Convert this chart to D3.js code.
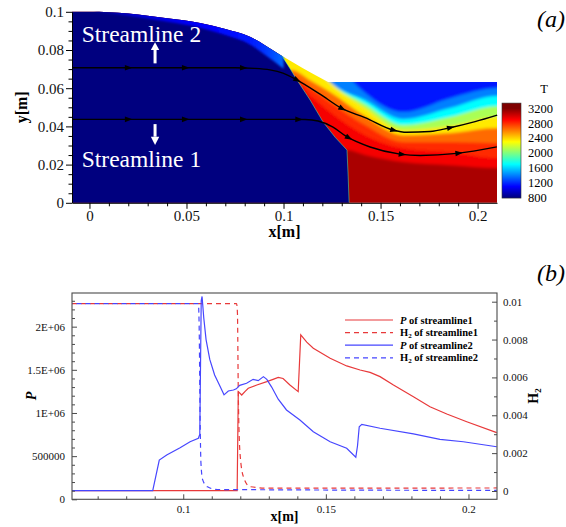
<!DOCTYPE html>
<html>
<head>
<meta charset="utf-8">
<script src="https://cdn.jsdelivr.net/npm/d3@7/dist/d3.min.js"></script>
<style>
  html, body { margin: 0; padding: 0; background: #fff; }
  svg { display: block; font-family: "Liberation Serif", "Times New Roman", serif; }
</style>
</head>
<body>
<svg id="fig" width="566" height="527"></svg>
<script>
// ===== Temperature colour map (jet-like) =====
const tempStops  = [800, 1100, 1700, 2000, 2300, 2900, 3200];
const tempColors = ["#00007f", "#0000ff", "#00ffff", "#7fff7f", "#ffff00", "#ff0000", "#7f0000"];
const tempTicks  = [800, 1200, 1600, 2000, 2400, 2800, 3200];

// ===== Panel (a): flow-field geometry, metres =====
const wallX = [-0.009, 0, 0.02, 0.04, 0.057, 0.07, 0.0827, 0.09, 0.0982, 0.11, 0.123];
const wallY = [0.1, 0.1, 0.0991, 0.0966, 0.0942, 0.091, 0.0869, 0.0828, 0.0775, 0.0705, 0.0632];
const wallFlatY = 0.0632;
const fieldXMax = 0.21;

const shockPts = [[0.0985,0.0790],[0.1000,0.0756],[0.1035,0.0700],[0.1070,0.0642],[0.1137,0.0538],
                  [0.1204,0.0423],[0.1265,0.0344],[0.1327,0.0276],[0.1333,0.0140],[0.1338,0.0]];
const freeStreamT = 800;

// thin heated layer along the wall, ahead of the shock
const layerX     = [0.003, 0.0226, 0.04, 0.057, 0.07, 0.0827, 0.09, 0.1];
const layerDepth = [0, 0.0012, 0.0018, 0.0025, 0.0032, 0.0040, 0.0050, 0.0062];
const layerT     = [850, 1000, 1050, 1090, 1120, 1160, 1220, 1350];

// behind the shock: each band covers everything above its lower edge
const coreT = 3100;
const bandT = [2920, 2800, 2650, 2350, 2100, 1700, 1400, 1150];
const bandEdges = [
  [[0.0982,0.0276],[0.1327,0.0276],[0.1420,0.0250],[0.1616,0.0213],[0.1858,0.0197],[0.2101,0.0182]],
  [[0.0982,0.0611],[0.1085,0.0611],[0.1137,0.0564],[0.1240,0.0475],[0.1420,0.0354],[0.1616,0.0286],[0.1858,0.0265],[0.2101,0.0234]],
  [[0.0982,0.0653],[0.1054,0.0653],[0.1137,0.0601],[0.1240,0.0527],[0.1420,0.0407],[0.1616,0.0318],[0.1858,0.0318],[0.2101,0.0313]],
  [[0.0982,0.0695],[0.1039,0.0695],[0.1137,0.0642],[0.1240,0.0580],[0.1420,0.0454],[0.1616,0.0354],[0.1858,0.0365],[0.2101,0.0391]],
  [[0.1180,0.0700],[0.1240,0.0632],[0.1420,0.0496],[0.1616,0.0381],[0.1858,0.0402],[0.2101,0.0449]],
  [[0.1180,0.0700],[0.1240,0.0632],[0.1420,0.0517],[0.1616,0.0407],[0.1858,0.0449],[0.2101,0.0506]],
  [[0.1180,0.0700],[0.1240,0.0632],[0.1420,0.0538],[0.1616,0.0438],[0.1858,0.0496],[0.2101,0.0559]],
  [[0.1320,0.0680],[0.1360,0.0632],[0.1420,0.0576],[0.1616,0.0475],[0.1858,0.0548],[0.2101,0.0601]]
];

// streamlines and the positions of their direction arrows
const stream1 = [[-0.009,0.0437],[0.105,0.0437],[0.1111,0.0436],[0.1178,0.0428],[0.1255,0.0396],[0.1326,0.0346],
                 [0.1446,0.0292],[0.16,0.0255],[0.1704,0.0248],[0.1893,0.0259],[0.2099,0.0293]];
const stream2 = [[-0.009,0.0707],[0.075,0.0707],[0.085,0.0704],[0.093,0.0696],[0.0997,0.0679],[0.1068,0.0644],
                 [0.1188,0.0569],[0.130,0.0494],[0.142,0.0446],[0.1564,0.0381],[0.1635,0.0369],[0.1755,0.0373],
                 [0.1858,0.0393],[0.1987,0.0425],[0.2101,0.0459]];
const stream1Arrows = [0.0198, 0.0492, 0.0791, 0.1076, 0.1334, 0.1609, 0.1901];
const stream2Arrows = [0.0198, 0.0492, 0.0791, 0.1068, 0.1300, 0.1566, 0.1858];

const xTicksA = [0, 0.05, 0.1, 0.15, 0.2];
const xTickLabelsA = ["0", "0.05", "0.1", "0.15", "0.2"];
const yTicksA = [0, 0.02, 0.04, 0.06, 0.08, 0.1];
const yTickLabelsA = ["0", "0.02", "0.04", "0.06", "0.08", "0.1"];

// ===== Panel (b): profiles along the two streamlines =====
const pStream1 = [[0.061,1.0e5],[0.1189,1.0e5],[0.1193,1.247e6],[0.1205,1.208e6],[0.1217,1.25e6],[0.1228,1.286e6],
  [0.1258,1.324e6],[0.1293,1.363e6],[0.1315,1.39e6],[0.1333,1.413e6],[0.1350,1.40e6],[0.1374,1.324e6],
  [0.1403,1.247e6],[0.1412,1.904e6],[0.1433,1.82e6],[0.1456,1.75e6],[0.1515,1.634e6],[0.1573,1.545e6],
  [0.1620,1.498e6],[0.1655,1.471e6],[0.1690,1.421e6],[0.1737,1.324e6],[0.1807,1.189e6],[0.1865,1.073e6],
  [0.1924,0.988e6],[0.1994,0.899e6],[0.2099,0.772e6]];
const h2Stream1 = [[0.061,0.0099],[0.1187,0.0099],[0.1190,0.0094],[0.1193,0.0052],[0.1199,0.0020],
  [0.1211,0.00075],[0.1234,0.00023],[0.1300,0.00015],[0.2099,0.00016]];
const pStream2 = [[0.061,1.0e5],[0.0893,1.0e5],[0.0916,0.455e6],[0.0942,0.513e6],[0.0989,0.598e6],[0.1024,0.667e6],
  [0.1053,0.707e6],[0.1058,0.75e6],[0.1063,2.30e6],[0.1066,2.35e6],[0.1072,2.10e6],[0.1080,1.85e6],
  [0.1093,1.62e6],[0.1110,1.44e6],[0.1126,1.33e6],[0.1143,1.21e6],[0.1158,1.255e6],[0.1176,1.266e6],
  [0.1186,1.28e6],[0.1198,1.32e6],[0.1222,1.344e6],[0.1245,1.39e6],[0.1263,1.374e6],[0.1281,1.421e6],
  [0.1293,1.39e6],[0.1310,1.30e6],[0.1333,1.16e6],[0.1362,1.035e6],[0.1409,0.919e6],[0.1456,0.783e6],
  [0.1515,0.667e6],[0.1573,0.591e6],[0.1605,0.487e6],[0.1611,0.62e6],[0.1617,0.841e6],[0.1626,0.869e6],
  [0.1690,0.823e6],[0.1807,0.757e6],[0.1900,0.695e6],[0.1982,0.667e6],[0.2099,0.609e6]];
const h2Stream2 = [[0.061,0.0099],[0.1053,0.0099],[0.1056,0.0085],[0.1059,0.0040],[0.1062,0.0015],
  [0.1068,0.0006],[0.1085,0.00022],[0.1120,0.00008],[0.2099,0.00003]];

const pTicks = [0, 5e5, 1e6, 1.5e6, 2e6];
const pTickLabels = ["0", "500000", "1E+06", "1.5E+06", "2E+06"];
const h2Ticks = [0, 0.002, 0.004, 0.006, 0.008, 0.01];
const h2TickLabels = ["0", "0.002", "0.004", "0.006", "0.008", "0.01"];
const xTicksB = [0.1, 0.15, 0.2];
const xTickLabelsB = ["0.1", "0.15", "0.2"];

const colStream1 = "#e8393a";
const colStream2 = "#4646ff";

// ===================================================================
const svg = d3.select("#fig");
const defs = svg.append("defs");
const tempColor = d3.scaleLinear().domain(tempStops).range(tempColors).clamp(true);
const serif = "'Liberation Serif', 'Times New Roman', serif";

function minorTicks(lo, hi, step, major) {
  return d3.range(Math.round((hi - lo) / step) + 1).map(i => +(lo + i * step).toFixed(6))
    .filter(v => !major.some(m => Math.abs(m - v) < 1e-9));
}
function styleAxis(g, size, color) {
  g.attr("font-family", serif).attr("font-size", size);
  g.selectAll("line").attr("stroke", color);
  g.selectAll("path").attr("stroke", color);
  g.selectAll("text").attr("fill", "#111");
}

// ---------------- Panel (a) ----------------
const xA = d3.scaleLinear([-0.009, 0.21], [72, 497]);
const yA = d3.scaleLinear([0, 0.1], [202.8, 11.8]);

const wallPts = wallX.map((x, i) => [x, wallY[i]]);
const wallCurve = d3.line().x(d => xA(d[0])).y(d => yA(d[1])).curve(d3.curveMonotoneX);
const outline = wallCurve(wallPts) +
  `L${xA(fieldXMax)},${yA(wallFlatY)}L${xA(fieldXMax)},${yA(0)}L${xA(wallX[0])},${yA(0)}Z`;
defs.append("clipPath").attr("id", "fieldClip").append("path").attr("d", outline);

const soft = defs.append("filter").attr("id", "soft")
  .attr("x", -0.05).attr("y", -0.05).attr("width", 1.1).attr("height", 1.1);
soft.append("feGaussianBlur").attr("stdDeviation", 1.8);
const softer = defs.append("filter").attr("id", "softer")
  .attr("x", -0.1).attr("y", -0.5).attr("width", 1.2).attr("height", 2);
softer.append("feGaussianBlur").attr("stdDeviation", 1.0);

const field = svg.append("g").attr("clip-path", "url(#fieldClip)");

// hot region behind the shock
const hot = field.append("g").attr("filter", "url(#soft)");
hot.append("rect")
  .attr("x", xA(wallX[0]) - 10).attr("y", yA(0.12))
  .attr("width", xA(fieldXMax) - xA(wallX[0]) + 20).attr("height", yA(0) - yA(0.12) + 10)
  .attr("fill", tempColor(coreT));
const bandArea = d3.area().x(d => xA(d[0])).y0(yA(0.12)).y1(d => yA(d[1])).curve(d3.curveMonotoneX);
bandEdges.forEach((edge, i) => {
  const pts = edge.concat([[0.225, edge[edge.length - 1][1]]]);
  hot.append("path").attr("d", bandArea(pts)).attr("fill", tempColor(bandT[i]));
});

// cold free stream ahead of the shock
const navyPts = [[-0.02, -0.01], [-0.02, 0.12], [0.09, 0.12]].concat(shockPts).concat([[0.1338, -0.01]]);
const linA = d3.line().x(d => xA(d[0])).y(d => yA(d[1]));
field.append("path").attr("d", linA(navyPts) + "Z").attr("fill", tempColor(freeStreamT));

// heated wall layer
const wallAt = d3.scaleLinear().domain(wallX).range(wallY);
const lg = defs.append("linearGradient").attr("id", "wallLayer")
  .attr("gradientUnits", "userSpaceOnUse")
  .attr("x1", xA(layerX[0])).attr("x2", xA(layerX[layerX.length - 1])).attr("y1", 0).attr("y2", 0);
layerX.forEach((x, i) => {
  lg.append("stop")
    .attr("offset", (xA(x) - xA(layerX[0])) / (xA(layerX[layerX.length - 1]) - xA(layerX[0])))
    .attr("stop-color", tempColor(layerT[i]));
});
const layerArea = d3.area()
  .x(d => xA(d)).y0(d => yA(wallAt(d) + 0.01))
  .y1((d, i) => yA(wallAt(d) - layerDepth[i]))
  .curve(d3.curveMonotoneX);
field.append("path").attr("d", layerArea(layerX)).attr("fill", "url(#wallLayer)").attr("filter", "url(#softer)");

// smeared shock front
field.append("path").attr("d", linA(shockPts)).attr("fill", "none")
  .attr("stroke", tempColor(1900)).attr("stroke-width", 0.9).attr("opacity", 0.55);

// streamlines with direction arrows
const streamLine = d3.line().x(d => xA(d[0])).y(d => yA(d[1])).curve(d3.curveMonotoneX);
[[stream1, stream1Arrows], [stream2, stream2Arrows]].forEach(([pts, arrows]) => {
  const p = svg.append("path").attr("d", streamLine(pts)).attr("fill", "none")
    .attr("stroke", "#000").attr("stroke-width", 1.4);
  const node = p.node(), L = node.getTotalLength();
  arrows.forEach(ax => {
    const tx = xA(ax);
    let lo = 0, hi = L;
    for (let k = 0; k < 40; k++) {
      const m = (lo + hi) / 2;
      if (node.getPointAtLength(m).x < tx) lo = m; else hi = m;
    }
    const a = node.getPointAtLength(Math.max(lo - 1.5, 0));
    const b = node.getPointAtLength(Math.min(lo + 1.5, L));
    const c = node.getPointAtLength(lo);
    const ang = Math.atan2(b.y - a.y, b.x - a.x) * 180 / Math.PI;
    svg.append("path").attr("d", "M4.5,0L-3,-2.8L-3,2.8Z")
      .attr("transform", `translate(${c.x},${c.y}) rotate(${ang})`).attr("fill", "#000");
  });
});

// streamline labels and white pointers
const labelX = -0.004, pointerX = 0.0338;
svg.append("text").attr("x", xA(labelX)).attr("y", yA(0.0843)).attr("font-family", serif)
  .attr("font-size", 23.5).attr("fill", "#fff").text("Streamline 2");
svg.append("text").attr("x", xA(labelX)).attr("y", yA(0.0188)).attr("font-family", serif)
  .attr("font-size", 23.5).attr("fill", "#fff").text("Streamline 1");
function pointer(yFrom, yBase, yTip) {
  const px = xA(pointerX);
  svg.append("line").attr("x1", px).attr("x2", px).attr("y1", yA(yFrom)).attr("y2", yA(yBase))
    .attr("stroke", "#fff").attr("stroke-width", 3);
  svg.append("path").attr("d", `M${px - 4.2},${yA(yBase)}L${px + 4.2},${yA(yBase)}L${px},${yA(yTip)}Z`)
    .attr("fill", "#fff");
}
pointer(0.0730, 0.0800, 0.0841);
pointer(0.0412, 0.0346, 0.0302);

// axes of panel (a)
const axAy = svg.append("g").attr("transform", `translate(${xA.range()[0]},0)`)
  .call(d3.axisLeft(yA).tickValues(yTicksA).tickSize(6).tickSizeOuter(0).tickPadding(2)
    .tickFormat((d, i) => yTickLabelsA[i]));
styleAxis(axAy, 15, "#000");
const axAyMinor = svg.append("g").attr("transform", `translate(${xA.range()[0]},0)`)
  .call(d3.axisLeft(yA).tickValues(minorTicks(0, 0.1, 0.005, yTicksA)).tickSize(3.5).tickFormat(""));
axAyMinor.select(".domain").remove();
styleAxis(axAyMinor, 15, "#000");

const axAx = svg.append("g").attr("transform", `translate(0,${yA(0)})`)
  .call(d3.axisBottom(xA).tickValues(xTicksA).tickSize(6).tickSizeOuter(0).tickPadding(1.5)
    .tickFormat((d, i) => xTickLabelsA[i]));
styleAxis(axAx, 15, "#000");
const axAxMinor = svg.append("g").attr("transform", `translate(0,${yA(0)})`)
  .call(d3.axisBottom(xA).tickValues(minorTicks(0, 0.2, 0.01, xTicksA)).tickSize(3.5).tickFormat(""));
axAxMinor.select(".domain").remove();
styleAxis(axAxMinor, 15, "#000");

svg.append("text").attr("x", (xA.range()[0] + xA.range()[1]) / 2).attr("y", 237).attr("font-family", serif)
  .attr("text-anchor", "middle").attr("font-size", 16).attr("font-weight", "bold").text("x[m]");
svg.append("text").attr("transform", `translate(27,${(yA.range()[0] + yA.range()[1]) / 2}) rotate(-90)`)
  .attr("font-family", serif)
  .attr("text-anchor", "middle").attr("font-size", 16).attr("font-weight", "bold").text("y[m]");
svg.append("text").attr("x", 551).attr("y", 27).attr("text-anchor", "middle").attr("font-family", serif)
  .attr("font-size", 24).attr("font-style", "italic").text("(a)");

// colour bar
const barScale = d3.scaleLinear([800, 3200], [197.7, 108.3]);
const barLo = 790, barHi = 3340;
const cg = defs.append("linearGradient").attr("id", "tempBar").attr("gradientUnits", "userSpaceOnUse")
  .attr("x1", 0).attr("x2", 0).attr("y1", barScale(barLo)).attr("y2", barScale(barHi));
[barLo].concat(tempStops).concat([barHi]).forEach(t => {
  cg.append("stop").attr("offset", (t - barLo) / (barHi - barLo)).attr("stop-color", tempColor(t));
});
svg.append("rect").attr("x", 502).attr("y", barScale(barHi)).attr("width", 19)
  .attr("height", barScale(barLo) - barScale(barHi)).attr("fill", "url(#tempBar)")
  .attr("stroke", "#333").attr("stroke-width", 0.6);
svg.append("g").attr("font-family", serif).selectAll("text").data(tempTicks).join("text")
  .attr("x", 528).attr("y", d => barScale(d)).attr("dy", "0.35em")
  .attr("font-size", 12.5).text(d => d);
svg.append("text").attr("x", 544).attr("y", 93).attr("text-anchor", "middle").attr("font-family", serif)
  .attr("font-size", 12.5).text("T");

// ---------------- Panel (b) ----------------
const xB = d3.scaleLinear([0.061, 0.21], [72, 497]);
const yP = d3.scaleLinear([0, 2.39e6], [499.3, 293]);
const yH = d3.scaleLinear([0, 0.01], [491, 301.7]);
const frameCol = "#4a4a4a";

const lineP = d3.line().x(d => xB(d[0])).y(d => yP(d[1]));
const lineH = d3.line().x(d => xB(d[0])).y(d => yH(d[1])).curve(d3.curveMonotoneX);

const plotB = svg.append("g");
plotB.append("path").attr("d", lineP(pStream1)).attr("fill", "none")
  .attr("stroke", colStream1).attr("stroke-width", 1.2);
plotB.append("path").attr("d", lineH(h2Stream1)).attr("fill", "none")
  .attr("stroke", colStream1).attr("stroke-width", 1.2).attr("stroke-dasharray", "5,4");
plotB.append("path").attr("d", lineP(pStream2)).attr("fill", "none")
  .attr("stroke", colStream2).attr("stroke-width", 1.2);
plotB.append("path").attr("d", lineH(h2Stream2)).attr("fill", "none")
  .attr("stroke", colStream2).attr("stroke-width", 1.2).attr("stroke-dasharray", "5,4")
  .attr("stroke-dashoffset", 4.5);

svg.append("rect").attr("x", 72).attr("y", 293).attr("width", 425).attr("height", 499.3 - 293)
  .attr("fill", "none").attr("stroke", frameCol).attr("stroke-width", 1.1);

const axBl = svg.append("g").attr("transform", "translate(72,0)")
  .call(d3.axisLeft(yP).tickValues(pTicks).tickSize(-5).tickSizeOuter(0).tickPadding(7)
    .tickFormat((d, i) => pTickLabels[i]));
axBl.select(".domain").remove();
styleAxis(axBl, 11, frameCol);
const axBlMinor = svg.append("g").attr("transform", "translate(72,0)")
  .call(d3.axisLeft(yP).tickValues(minorTicks(0, 2.3e6, 1e5, pTicks)).tickSize(-3).tickFormat(""));
axBlMinor.select(".domain").remove();
styleAxis(axBlMinor, 11, frameCol);

const axBr = svg.append("g").attr("transform", "translate(497,0)")
  .call(d3.axisRight(yH).tickValues(h2Ticks).tickSize(-5).tickSizeOuter(0).tickPadding(6)
    .tickFormat((d, i) => h2TickLabels[i]));
axBr.select(".domain").remove();
styleAxis(axBr, 11, frameCol);
const axBrMinor = svg.append("g").attr("transform", "translate(497,0)")
  .call(d3.axisRight(yH).tickValues(minorTicks(0, 0.01, 0.001, h2Ticks)).tickSize(-3).tickFormat(""));
axBrMinor.select(".domain").remove();
styleAxis(axBrMinor, 11, frameCol);

const axBb = svg.append("g").attr("transform", "translate(0,499.3)")
  .call(d3.axisBottom(xB).tickValues(xTicksB).tickSize(-5).tickSizeOuter(0).tickPadding(6)
    .tickFormat((d, i) => xTickLabelsB[i]));
axBb.select(".domain").remove();
styleAxis(axBb, 11, frameCol);
const axBbMinor = svg.append("g").attr("transform", "translate(0,499.3)")
  .call(d3.axisBottom(xB).tickValues(minorTicks(0.07, 0.2, 0.01, xTicksB)).tickSize(-3).tickFormat(""));
axBbMinor.select(".domain").remove();
styleAxis(axBbMinor, 11, frameCol);

svg.append("text").attr("x", 284.5).attr("y", 521).attr("text-anchor", "middle").attr("font-family", serif)
  .attr("font-size", 14).attr("font-weight", "bold").text("x[m]");
svg.append("text").attr("transform", "translate(36,396) rotate(-90)").attr("text-anchor", "middle")
  .attr("font-family", serif)
  .attr("font-size", 14).attr("font-weight", "bold").attr("font-style", "italic").text("P");
const h2Title = svg.append("text").attr("transform", "translate(538,396) rotate(-90)")
  .attr("font-family", serif)
  .attr("text-anchor", "middle").attr("font-size", 14).attr("font-weight", "bold");
h2Title.append("tspan").text("H");
h2Title.append("tspan").attr("font-size", 9).attr("dy", 3).text("2");
svg.append("text").attr("x", 551).attr("y", 281).attr("text-anchor", "middle").attr("font-family", serif)
  .attr("font-size", 24).attr("font-style", "italic").text("(b)");

// legend
const legendVar    = ["P", "H", "P", "H"];
const legendSub    = ["", "2", "", "2"];
const legendSuffix = [" of streamline1", " of streamline1", " of streamline2", " of streamline2"];
const legendColor  = [colStream1, colStream1, colStream2, colStream2];
const legendDashed = [false, true, false, true];
const legend = svg.append("g").attr("font-family", serif).attr("font-size", 10.5).attr("font-weight", "bold");
legendVar.forEach((v, i) => {
  const ly = 320 + i * 12.6;
  legend.append("line").attr("x1", 345).attr("x2", 393).attr("y1", ly).attr("y2", ly)
    .attr("stroke", legendColor[i]).attr("stroke-width", 1.2)
    .attr("stroke-dasharray", legendDashed[i] ? "5,4" : null);
  const t = legend.append("text").attr("x", 400).attr("y", ly + 3.6);
  t.append("tspan").attr("font-style", v === "P" ? "italic" : "normal").text(v);
  if (legendSub[i]) {
    t.append("tspan").attr("font-size", 7).attr("dy", 2).text(legendSub[i]);
    t.append("tspan").attr("dy", -2).text(legendSuffix[i]);
  } else {
    t.append("tspan").text(legendSuffix[i]);
  }
});
</script>
</body>
</html>
